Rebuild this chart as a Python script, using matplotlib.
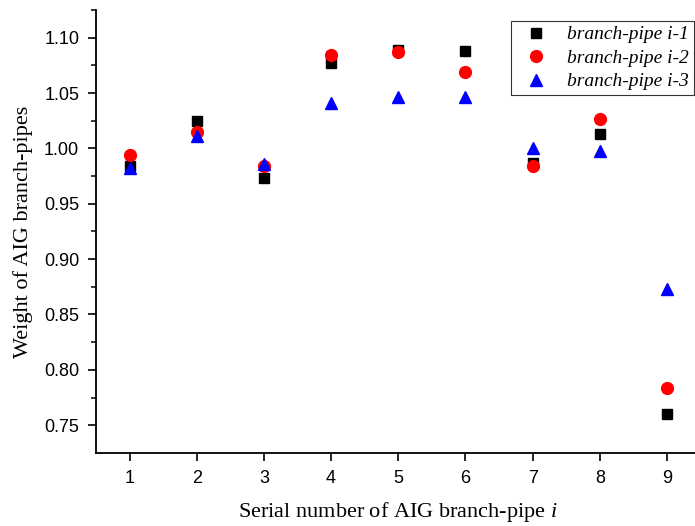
import matplotlib.pyplot as plt
import numpy as np

plt.rcParams['mathtext.fontset'] = 'custom'
plt.rcParams['mathtext.it'] = 'Liberation Serif:italic'
plt.rcParams['mathtext.rm'] = 'Liberation Serif'

serial = [1, 2, 3, 4, 5, 6, 7, 8, 9]
pipe1 = [0.984, 1.025, 0.973, 1.077, 1.089, 1.088, 0.987, 1.013, 0.760]
pipe2 = [0.994, 1.015, 0.984, 1.084, 1.087, 1.069, 0.984, 1.027, 0.784]
pipe3 = [0.982, 1.011, 0.986, 1.041, 1.046, 1.046, 1.000, 0.998, 0.873]
labels = ['branch-pipe i-1', 'branch-pipe i-2', 'branch-pipe i-3']

fig = plt.figure(figsize=(6.95, 5.26), dpi=100)
ax = fig.add_axes([0.138, 0.139, 0.870, 0.842])

ax.plot(serial, pipe1, 's', color='black', ms=7.5, ls='none', label=labels[0])
ax.plot(serial, pipe2, 'o', color='red', ms=8.5, ls='none', label=labels[1])
ax.plot(serial, pipe3, '^', color='blue', ms=9, ls='none', label=labels[2])

ax.set_xlim(0.5, 9.5)
ax.set_ylim(0.725, 1.125)
ax.set_xticks(serial)
ax.set_yticks(np.arange(0.75, 1.101, 0.05))
ax.set_yticks(np.arange(0.775, 1.126, 0.05), minor=True)
ax.yaxis.set_major_formatter(plt.FormatStrFormatter('%.2f'))
ax.spines['top'].set_visible(False)
ax.spines['right'].set_visible(False)
ax.spines['left'].set_linewidth(1.3)
ax.spines['bottom'].set_linewidth(1.3)
ax.tick_params(direction='out', length=6, width=1.2, labelsize=13, pad=6)
ax.tick_params(which='minor', direction='out', length=3.5, width=1.1)
for t in ax.get_xticklabels() + ax.get_yticklabels():
    t.set_family('Liberation Sans')

ax.set_xlabel('Serial number of AIG branch-pipe $\\it{i}$', family='Liberation Serif', fontsize=16, labelpad=10)
ax.set_ylabel('Weight of AIG branch-pipes', family='Liberation Serif', fontsize=16, labelpad=8)

leg = ax.legend(loc='upper left', bbox_to_anchor=(511 / 695, (526 - 21) / 526),
                bbox_transform=fig.transFigure, frameon=True, fancybox=False,
                shadow=False, prop={'family': 'Liberation Serif', 'style': 'italic', 'size': 14},
                handletextpad=0.55, labelspacing=0.3, borderpad=0.25, handlelength=2.1,
                borderaxespad=0)
leg.get_frame().set_edgecolor('black')
leg.get_frame().set_linewidth(0.8)

fig.savefig('out.png', dpi=100)
